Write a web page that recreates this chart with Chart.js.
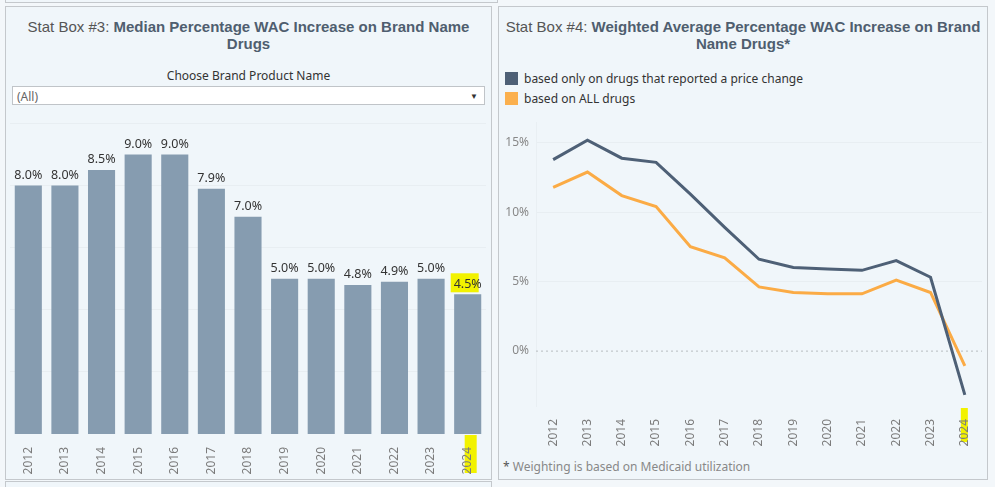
<!DOCTYPE html>
<html>
<head>
<meta charset="utf-8">
<script src="https://cdn.jsdelivr.net/npm/chart.js@4"></script>
<style>
  body { margin:0; width:995px; height:487px; background:#f3f7fa; position:relative; overflow:hidden; font-family:"Noto Sans", sans-serif; }
  .panel { position:absolute; background:#f0f6fa; border:1px solid #c4c8cc; box-sizing:border-box; }
  .title { position:absolute; left:-20px; right:-20px; top:11px; text-align:center; white-space:nowrap; font-family:"Liberation Sans", Arial, sans-serif; font-size:15px; line-height:17px; color:#555; }
  .title b { color:#4f5e6f; }
  .box { position:absolute; }
  .legend { position:absolute; left:6px; font-size:12px; color:#333; }
  .legend span { display:inline-block; width:13px; height:13px; vertical-align:-2px; margin-right:6px; }
</style>
</head>
<body>

<div class="panel" style="left:5px; top:-12px; width:493px; height:15px;"></div>
<div class="panel" style="left:5px; top:481px; width:487px; height:20px;"></div>

<div class="panel" style="left:5px; top:6px; width:487px; height:474px;">
  <div class="title">Stat Box #3: <b>Median Percentage WAC Increase on Brand Name<br>Drugs</b></div>
  <div style="position:absolute; left:0; right:0; top:60px; text-align:center; font-size:12px; color:#333;">Choose Brand Product Name</div>
  <div style="position:absolute; left:6px; top:79px; width:473px; height:19px; background:#fff; border:1px solid #c0c4c8; box-sizing:border-box;">
    <span style="position:absolute; left:4px; top:1px; font-size:12px; color:#666;">(All)</span>
    <span style="position:absolute; right:6px; top:3px; font-size:8px; color:#333;">&#9660;</span>
  </div>
</div>

<div class="panel" style="left:498px; top:6px; width:490px; height:474px; overflow:hidden;">
  <div class="title">Stat Box #4: <b>Weighted Average Percentage WAC Increase on Brand<br>Name Drugs*</b></div>
  <div class="legend" style="top:63px;"><span style="background:#4e6076;"></span>based only on drugs that reported a price change</div>
  <div class="legend" style="top:83px;"><span style="background:#fbb04e;"></span>based on ALL drugs</div>
  <div style="position:absolute; left:4px; top:451px; font-size:12px; color:#888;"><span style="color:#555;">*</span> Weighting is based on Medicaid utilization</div>
</div>

<div class="box" style="left:6px; top:108px; width:484px; height:370px;"><canvas id="barChart"></canvas></div>
<div class="box" style="left:499px; top:108px; width:487px; height:345px;"><canvas id="lineChart"></canvas></div>

<script>
// data
const years = ['2012','2013','2014','2015','2016','2017','2018','2019','2020','2021','2022','2023','2024'];
const medianIncrease = [8.0, 8.0, 8.5, 9.0, 9.0, 7.9, 7.0, 5.0, 5.0, 4.8, 4.9, 5.0, 4.5];
const weightedChanged = [13.8, 15.2, 13.9, 13.6, 11.3, 8.9, 6.6, 6.0, 5.9, 5.8, 6.5, 5.3, -3.2];
const weightedAll = [11.8, 12.9, 11.2, 10.4, 7.5, 6.7, 4.6, 4.2, 4.1, 4.1, 5.1, 4.2, -1.1];
const barTicks = [2, 4, 6, 8, 10];
const lineTicks = [0, 5, 10, 15];

const HILITE = '#f2f200';

/* etiquetas de barras */
const barLabels = {
  id: 'barLabels',
  afterDatasetsDraw(chart) {
    const ctx = chart.ctx;
    const meta = chart.getDatasetMeta(0);
    ctx.save();
    ctx.font = '12.5px "Noto Sans"';
    ctx.textAlign = 'center';
    ctx.textBaseline = 'bottom';
    meta.data.forEach((bar, i) => {
      const txt = medianIncrease[i].toFixed(1) + '%';
      if (i === medianIncrease.length - 1) {
        ctx.fillStyle = HILITE;
        ctx.fillRect(bar.x - 17, bar.y - 21, 28, 19);
      }
      ctx.fillStyle = '#333';
      ctx.fillText(txt, bar.x, bar.y - 4);
    });
    ctx.restore();
  }
};

/* resaltado del ultimo anio */
function yearHighlight(dx, w, top, h) {
  return {
    id: 'yearHighlight',
    beforeDraw(chart) {
      const xs = chart.scales.x;
      const x = xs.getPixelForTick(years.length - 1);
      const ctx = chart.ctx;
      ctx.save();
      ctx.fillStyle = HILITE;
      ctx.fillRect(x + dx, xs.bottom - xs.height + top, w, h);
      ctx.restore();
    }
  };
}

/* linea cero punteada */
const zeroLine = {
  id: 'zeroLine',
  beforeDatasetsDraw(chart) {
    const y = chart.scales.y.getPixelForValue(0);
    const ctx = chart.ctx;
    ctx.save();
    ctx.strokeStyle = '#b8bcc0';
    ctx.lineWidth = 1;
    ctx.setLineDash([2, 3]);
    ctx.beginPath();
    ctx.moveTo(chart.chartArea.left, y + 0.5);
    ctx.lineTo(chart.chartArea.right, y + 0.5);
    ctx.stroke();
    ctx.restore();
  }
};

/* GRAFICO BARRAS */
new Chart(document.getElementById('barChart'), {
  type: 'bar',
  data: {
    labels: years,
    datasets: [{
      data: medianIncrease,
      backgroundColor: '#869cb0',
      barPercentage: 0.74,
      categoryPercentage: 1
    }]
  },
  options: {
    responsive: true,
    maintainAspectRatio: false,
    animation: false,
    layout: { padding: { left: 4, right: 4, top: 0, bottom: 0 } },
    plugins: { legend: { display: false }, tooltip: { enabled: false } },
    scales: {
      x: {
        grid: { display: false },
        border: { display: false },
        ticks: { color: '#7c7c7c', font: { size: 12, family: 'Noto Sans' }, minRotation: 90, maxRotation: 90, padding: 5 },
        afterFit: s => { s.height = 44; }
      },
      y: {
        min: 0,
        max: 10.5,
        afterBuildTicks: s => { s.ticks = barTicks.map(v => ({ value: v })); },
        grid: { color: '#e8eef2', drawTicks: false },
        border: { display: false },
        ticks: { display: false },
        afterFit: s => { s.width = 0; }
      }
    }
  },
  plugins: [barLabels, yearHighlight(-3, 12, 1, 38)]
});

/* GRAFICO LINEAS */
new Chart(document.getElementById('lineChart'), {
  type: 'line',
  data: {
    labels: years,
    datasets: [{
      data: weightedChanged,
      borderColor: '#4e6076',
      borderWidth: 3,
      pointRadius: 0,
      tension: 0
    }, {
      data: weightedAll,
      borderColor: '#fbab45',
      borderWidth: 3,
      pointRadius: 0,
      tension: 0
    }]
  },
  options: {
    responsive: true,
    maintainAspectRatio: false,
    animation: false,
    layout: { padding: { left: 0, right: 4, top: 5, bottom: 0 } },
    plugins: { legend: { display: false }, tooltip: { enabled: false } },
    scales: {
      x: {
        offset: true,
        grid: { display: false },
        border: { display: false },
        ticks: { color: '#7c7c7c', font: { size: 12, family: 'Noto Sans' }, minRotation: 90, maxRotation: 90, padding: 5 },
        afterFit: s => { s.height = 47; }
      },
      y: {
        min: -4,
        max: 16.5,
        afterBuildTicks: s => { s.ticks = lineTicks.map(v => ({ value: v })); },
        grid: { color: ctx => ctx.tick && ctx.tick.value === 0 ? 'rgba(0,0,0,0)' : '#e8eef2', drawTicks: false },
        border: { color: '#e9eff3' },
        ticks: { color: '#888', font: { size: 12, family: 'Noto Sans' }, padding: 7, callback: v => v + '%' },
        afterFit: s => { s.width = 37; }
      }
    }
  },
  plugins: [zeroLine, yearHighlight(-4, 7, 2, 34)]
});
</script>
</body>
</html>
